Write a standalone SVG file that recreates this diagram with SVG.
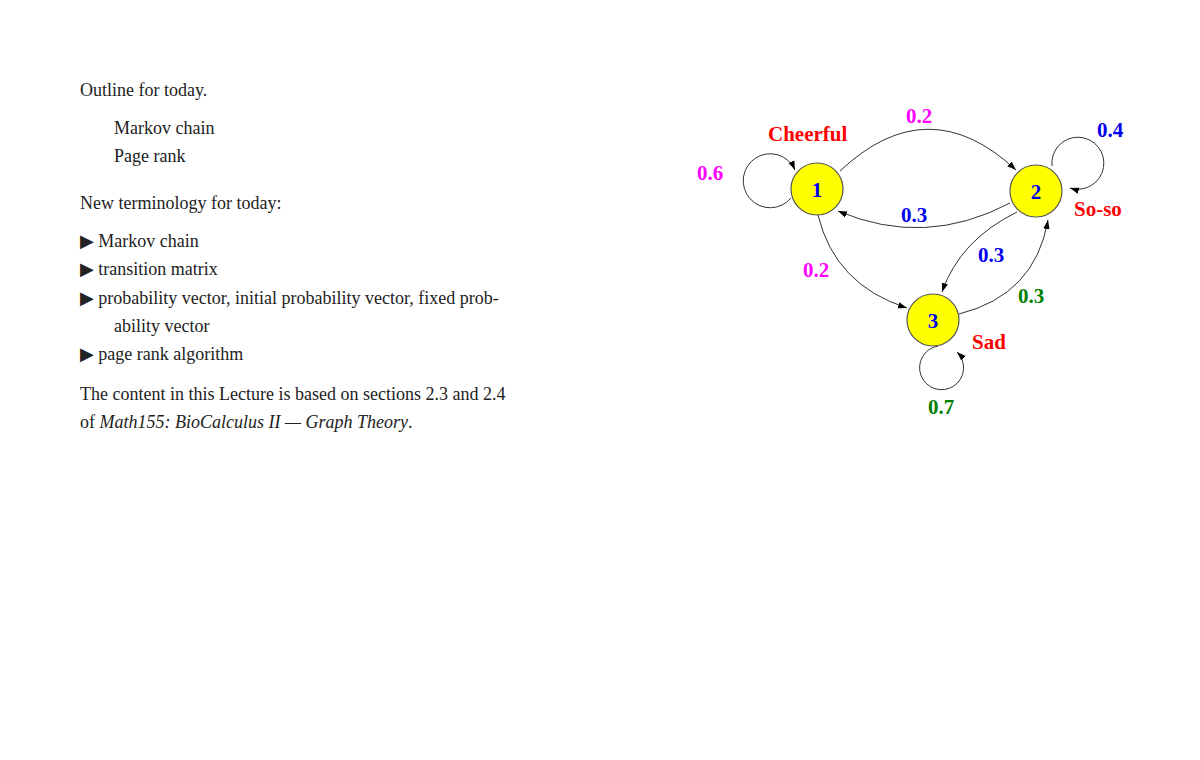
<svg xmlns="http://www.w3.org/2000/svg" width="1200" height="760" viewBox="0 0 1200 760">
<style>
.t{font-family:"Liberation Serif","DejaVu Serif",serif;font-size:18px;fill:#222}
.b{font-family:"Liberation Serif",serif;font-weight:bold;font-size:21px}
.n{fill:#ffff00;stroke:#555;stroke-width:1.2}
.e{fill:none;stroke:#333;stroke-width:1}
</style>
<defs><marker id="a" viewBox="0 0 10 10" refX="10" refY="5" markerWidth="9" markerHeight="9" orient="auto" markerUnits="userSpaceOnUse"><path d="M0,1.5L10,5L0,8.5z" fill="#000"/></marker></defs>
<rect width="1200" height="760" fill="#fff"/>
<g id="text">
<text class="t" x="80" y="96">Outline for today.</text>
<text class="t" x="114" y="134">Markov chain</text>
<text class="t" x="114" y="162">Page rank</text>
<text class="t" x="80" y="209">New terminology for today:</text>
<text class="t" x="80" y="247">▶ Markov chain</text>
<text class="t" x="80" y="275">▶ transition matrix</text>
<text class="t" x="80" y="304">▶ probability vector, initial probability vector, fixed prob-</text>
<text class="t" x="114" y="332">ability vector</text>
<text class="t" x="80" y="360">▶ page rank algorithm</text>
<text class="t" x="80" y="400">The content in this Lecture is based on sections 2.3 and 2.4</text>
<text class="t" x="80" y="428">of <tspan font-style="italic">Math155: BioCalculus II — Graph Theory</tspan>.</text>
</g>
<g id="connectors">
<path class="e" d="M840,171 Q928,88 1016,170" marker-end="url(#a)"/>
<path class="e" d="M1010,203 Q925,248 838,211" marker-end="url(#a)"/>
<path class="e" d="M818,215 Q835,285 907,308" marker-end="url(#a)"/>
<path class="e" d="M1017,212 Q960,240 942,292" marker-end="url(#a)"/>
<path class="e" d="M959,314 Q1035,295 1048,220" marker-end="url(#a)"/>
<path class="e" d="M791,198 A27,27 0 1 1 795,170" marker-end="url(#a)"/>
<path class="e" d="M1052,166 A26,26 0 1 1 1070,188" marker-end="url(#a)"/>
<path class="e" d="M938,346 A22,22 0 1 0 957,352" marker-end="url(#a)"/>
</g>
<g id="n1"><circle class="n" cx="817" cy="189" r="26"/><text class="b" x="817" y="197" text-anchor="middle" fill="#0000ee">1</text></g>
<g id="n2"><circle class="n" cx="1036" cy="191" r="26"/><text class="b" x="1036" y="199" text-anchor="middle" fill="#0000ee">2</text></g>
<g id="n3"><circle class="n" cx="933" cy="320" r="26"/><text class="b" x="933" y="328" text-anchor="middle" fill="#0000ee">3</text></g>
<g id="labels">
<text class="b" x="768" y="141" fill="#ff0000">Cheerful</text>
<text class="b" x="1074" y="216" fill="#ff0000">So-so</text>
<text class="b" x="972" y="349" fill="#ff0000">Sad</text>
<text class="b" x="906" y="123" fill="#ff00ff">0.2</text>
<text class="b" x="697" y="180" fill="#ff00ff">0.6</text>
<text class="b" x="803" y="277" fill="#ff00ff">0.2</text>
<text class="b" x="1097" y="137" fill="#0000ee">0.4</text>
<text class="b" x="901" y="222" fill="#0000ee">0.3</text>
<text class="b" x="978" y="262" fill="#0000ee">0.3</text>
<text class="b" x="1018" y="303" fill="#008000">0.3</text>
<text class="b" x="928" y="414" fill="#008000">0.7</text>
</g>
</svg>
